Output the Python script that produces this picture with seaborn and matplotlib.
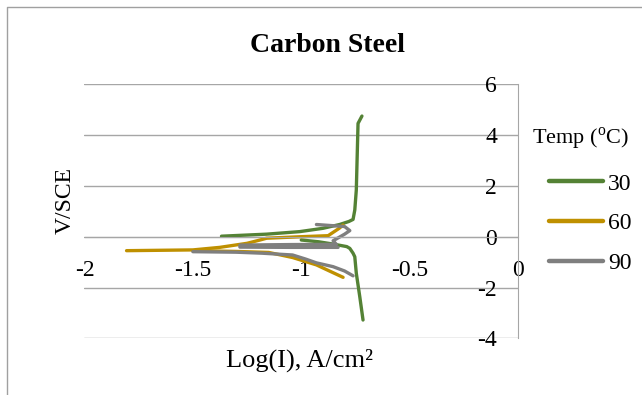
import matplotlib
matplotlib.use("Agg")
import matplotlib.pyplot as plt
import pandas as pd
import seaborn as sns
from matplotlib.lines import Line2D

# polarisation curves, one list per branch
temps = ["30", "60", "90"]
colours = {"30": "#548235", "60": "#bf9000", "90": "#7f7f7f"}

green_up_x = [-0.720, -0.738, -0.746, -0.753, -0.761, -0.780, -0.823, -0.900, -1.007, -1.160, -1.368]
green_up_y = [4.75, 4.46, 1.84, 1.05, 0.68, 0.60, 0.48, 0.33, 0.20, 0.10, 0.02]
green_down_x = [-1.00, -0.92, -0.853, -0.79, -0.776, -0.761, -0.753, -0.746, -0.738, -0.730, -0.715]
green_down_y = [-0.13, -0.20, -0.29, -0.39, -0.46, -0.65, -0.79, -1.44, -1.90, -2.36, -3.28]

orange_up_x = [-0.807, -0.825, -0.876, -1.00, -1.16, -1.19, -1.25, -1.376, -1.50, -1.806]
orange_up_y = [0.46, 0.33, 0.04, 0.00, -0.06, -0.13, -0.26, -0.42, -0.52, -0.55]
orange_down_x = [-1.50, -1.30, -1.15, -1.04, -0.93, -0.87, -0.807]
orange_down_y = [-0.55, -0.58, -0.62, -0.82, -1.11, -1.35, -1.60]

grey_up_x = [-0.93, -0.80, -0.776, -0.80, -0.853, -0.838, -1.05, -1.283, -1.283, -1.05, -0.83]
grey_up_y = [0.48, 0.40, 0.24, 0.10, -0.16, -0.30, -0.31, -0.33, -0.41, -0.42, -0.42]
grey_down_x = [-1.50, -1.30, -1.18, -1.04, -0.98, -0.93, -0.853, -0.80, -0.761]
grey_down_y = [-0.59, -0.61, -0.65, -0.72, -0.88, -1.03, -1.18, -1.35, -1.54]

branches = [
    ("30", "30a", green_up_x, green_up_y),
    ("30", "30c", green_down_x, green_down_y),
    ("60", "60a", orange_up_x, orange_up_y),
    ("60", "60c", orange_down_x, orange_down_y),
    ("90", "90a", grey_up_x, grey_up_y),
    ("90", "90c", grey_down_x, grey_down_y),
]
rows = []
for t, b, xs, ys in branches:
    for i in range(len(xs)):
        rows.append({"temp": t, "branch": b, "logI": xs[i], "V": ys[i], "order": i})
df = pd.DataFrame(rows)

sns.set_style("white")
plt.rcParams["font.family"] = ["Liberation Serif", "DejaVu Serif"]
plt.rcParams["mathtext.fontset"] = "custom"
plt.rcParams["mathtext.rm"] = "Liberation Serif"
plt.rcParams["axes.unicode_minus"] = False
plt.rcParams["text.color"] = "black"
plt.rcParams["xtick.color"] = "black"
plt.rcParams["ytick.color"] = "black"

fig = plt.figure(figsize=(6.42, 3.95), dpi=100)
ax = fig.add_axes([84.5 / 642, (395 - 338.3) / 395, 433.5 / 642, 254 / 395])

sns.lineplot(data=df, x="logI", y="V", hue="temp", units="branch", estimator=None,
             sort=False, palette=colours, hue_order=temps, linewidth=2.4,
             legend=False, ax=ax)

ax.set_xlim(-2, 0)
ax.set_ylim(-4, 6)
ax.set_xticks([-2, -1.5, -1, -0.5, 0])
ax.set_xticklabels(["-2", "-1.5", "-1", "-0.5", "0"])
ax.set_yticks([-4, -2, 0, 2, 4, 6])

grid_c = "#a6a6a6"
ax.yaxis.grid(True, color=grid_c, linewidth=1)
ax.xaxis.grid(False)
ax.set_axisbelow(True)
for s in ["top", "right"]:
    ax.spines[s].set_visible(False)
ax.spines["left"].set_position(("data", 0))
ax.spines["bottom"].set_position(("data", 0))
ax.spines["left"].set_color(grid_c)
ax.spines["bottom"].set_color(grid_c)
ax.tick_params(axis="x", length=5, color=grid_c, labelcolor="black", direction="out",
               pad=12, labelsize=17)
ax.tick_params(axis="y", length=0, pad=15, labelsize=17, labelcolor="black")

ax.set_xlabel("")
ax.set_ylabel("")
fig.text(300 / 642, 1 - 360 / 395, "Log(I), A/cm²", fontsize=19, ha="center", va="center")
fig.text(65 / 642, 1 - 200 / 395, "V/SCE", fontsize=17, rotation=90, ha="center", va="center")
fig.text(328 / 642, 1 - 45 / 395, "Carbon Steel", fontsize=20, fontweight="bold",
         ha="center", va="center")

# legend
fig.text(580 / 642, 1 - 139 / 395, "Temp ($^{\\mathrm{o}}$C)", fontsize=16, ha="center", va="center")
handles = [Line2D([0], [0], color=colours[t], linewidth=3.2) for t in temps]
leg = fig.legend(handles, temps, loc="upper left", bbox_to_anchor=(549 / 642, 1 - 173 / 395),
                 frameon=False, fontsize=17, handlelength=2.3, handletextpad=0.2,
                 labelspacing=0.78, borderaxespad=0, borderpad=0)

# chart area border
fig.add_artist(Line2D([7 / 642, 7 / 642, 1], [0, 1 - 7 / 395, 1 - 7 / 395],
                      transform=fig.transFigure, color="#a0a0a0", linewidth=1))

fig.savefig("out.png", dpi=100)
